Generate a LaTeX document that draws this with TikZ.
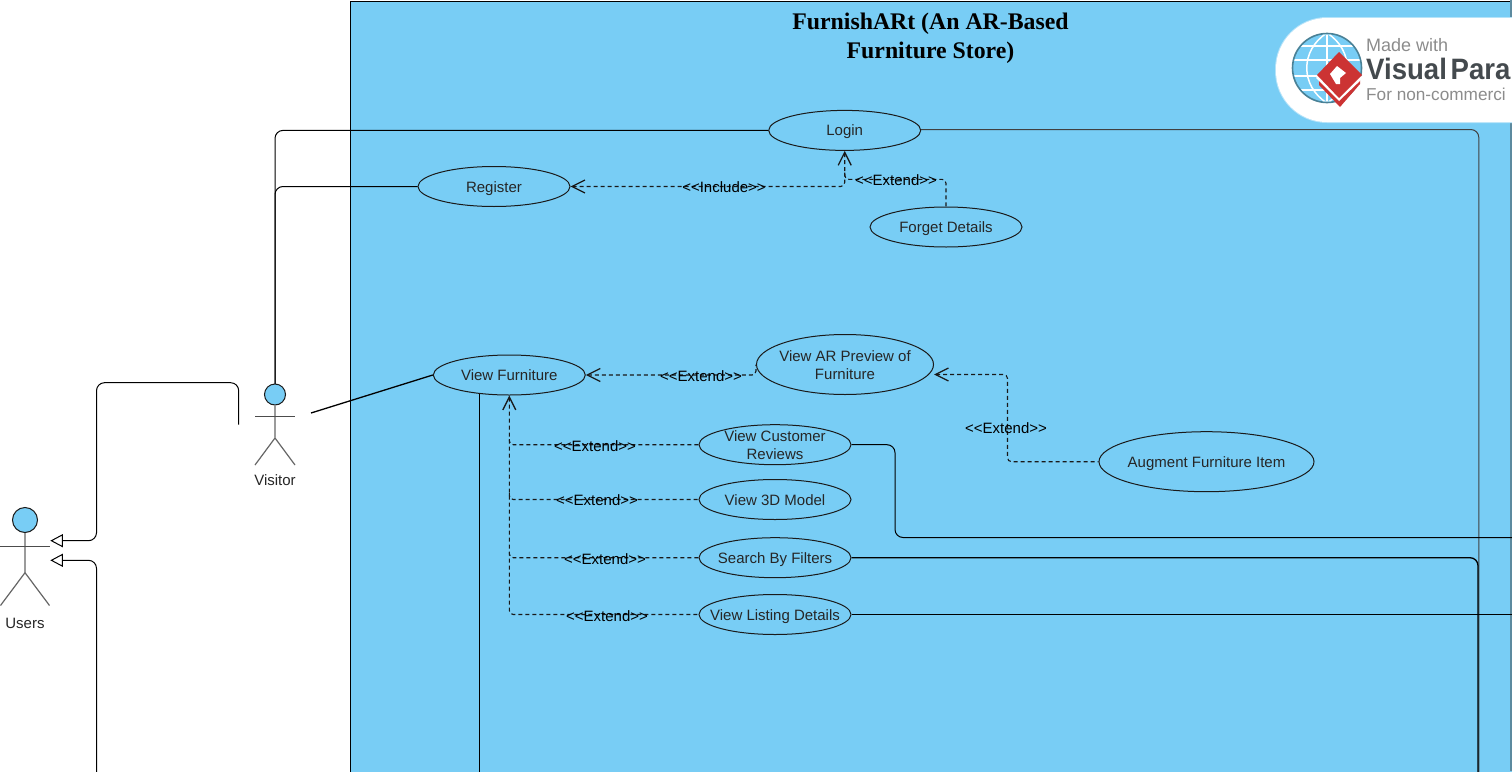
\documentclass[tikz,border=0pt]{standalone}
\usepackage{fontspec}
\usepackage{graphicx}
\setmainfont{Liberation Sans}
\newfontfamily\titlefont{Liberation Serif}
\usetikzlibrary{shapes.geometric,arrows.meta}
\definecolor{skyfill}{HTML}{78CDF5}
\definecolor{inkline}{HTML}{1A1A1A}
\definecolor{logored}{HTML}{CC3333}
\definecolor{logogrey}{HTML}{444A4E}
\definecolor{logoteal}{HTML}{4A8196}
\definecolor{edgegrey}{HTML}{5C8A9F}
\tikzset{
  x=1pt,y=-1pt,
  usecase/.style={ellipse,draw=inkline,line width=1pt,fill=skyfill,minimum width=152pt,minimum height=40pt,inner xsep=-40pt,inner ysep=-20pt,align=center,font=\fontsize{15}{18}\selectfont,text=black!85},
  oneline/.style={text height=11pt,text depth=0pt},
  assoc/.style={draw=black,line width=1pt,rounded corners=8pt},
  general/.style={assoc,-{Triangle[open,fill=white,length=12.5pt,width=13pt,line width=1pt]}},
  dep/.style={draw=black!90,line width=1.1pt,dash pattern=on 4pt off 3pt,rounded corners=4pt},
  deptip/.style={dep,{Straight Barb[length=13pt,width=13pt,line width=1.3pt]}-},
  deplabel/.style={font=\fontsize{15}{18}\selectfont,text=black,inner sep=0pt,text height=11pt,text depth=0pt},
  actorlabel/.style={font=\fontsize{15}{18}\selectfont,text=black!85,inner sep=0pt,text height=11pt,text depth=0pt},
  limb/.style={draw=black!60,line width=1.2pt},
  head/.style={circle,draw=inkline,line width=1pt,fill=skyfill,inner sep=0pt},
}
\begin{document}
\begin{tikzpicture}
\useasboundingbox (0,0) rectangle (1512,771);
\clip (0,0) rectangle (1512,771);
\fill[white] (0,0) rectangle (1512,771);
% system boundary
\node[draw=black,line width=1pt,fill=skyfill,minimum width=1300pt,minimum height=900pt,anchor=north west,inner sep=0pt] (system) at (350.3,0.5) {};
\fill[edgegrey] (1509.8,0) rectangle (1512,771);
\node[font=\titlefont\bfseries\fontsize{23.8}{29}\selectfont,align=center,inner sep=0pt] (title) at (930.5,38.5) {FurnishARt (An AR-Based\\Furniture Store)};

% free ends
\coordinate (visitorTop) at (275,385);
\coordinate (visitorLeft) at (238.7,424.5);
\coordinate (visitorRight) at (311,413);
\coordinate (usersUp) at (50.3,540.7);
\coordinate (usersDown) at (50.3,560.3);
\coordinate (belowL) at (96.5,790);
\coordinate (belowF) at (479.5,790);
\coordinate (belowA) at (1478,790);
\coordinate (belowB) at (1478.8,790);
\coordinate (rightA) at (1530,537.5);
\coordinate (rightB) at (1530,614.5);

% use cases
\node[usecase,oneline] (login) at (844.7,130.4) {Login};
\node[usecase,oneline] (register) at (494,186.5) {Register};
\node[usecase,oneline] (forget) at (946,227) {Forget Details};
\node[usecase,oneline] (furniture) at (509.3,375) {View Furniture};
\node[usecase,minimum width=177pt,minimum height=60pt] (preview) at (845,364.5) {\rule{0pt}{13pt}View AR Preview of\\Furniture};
\node[usecase,oneline,minimum width=215pt,minimum height=60pt] (augment) at (1206.5,461.7) {Augment Furniture Item};
\node[usecase] (reviews) at (775,444.7) {View Customer\\Reviews};
\node[usecase,oneline] (model) at (775,499.5) {View 3D Model};
\node[usecase,oneline] (filters) at (775,557.7) {Search By Filters};
\node[usecase,oneline] (listing) at (775,614.5) {View Listing Details};

% associations
\draw[assoc] (visitorTop) -- (275,130.4) -- (login.west);
\draw[assoc] (visitorTop) -- (275,186.5) -- (register.west);
\draw[assoc,rounded corners=0pt,line width=1.3pt] (visitorRight) -- (furniture.west);
\draw[assoc,draw=black!75] ([yshift=0.9pt]login.east) -- (1478.8,129.5) -- (belowB);
\draw[assoc,line width=1.3pt] (filters.east) -- (1478,557.7) -- (belowA);
\draw[assoc] (reviews.east) -- (895,444.7) -- (895,537.5) -- (rightA);
\draw[assoc] (listing.east) -- (rightB);
\draw[assoc] (479.5,394) -- (belowF);
\draw[general] (visitorLeft) -- (238.7,382.7) -- (96.5,382.7) -- (96.5,540.7) -- (usersUp);
\draw[general] (belowL) -- (96.5,560.3) -- (usersDown);

% dependencies
\draw[deptip] (login.south) -- (844.7,179.3) -- (946,179.3) -- (forget.north);
\draw[deptip] (register.east) -- (844.7,186.5) -- (844.7,172);
\draw[deptip] (furniture.east) -- (preview.west |- furniture.east) -- (preview.west);
\draw[deptip] ([yshift=-10pt]preview.east) -- (1007.5,374.5) -- (1007.5,461.7) -- (augment.west);
% one shared trunk up to View Furniture, with the other use cases joining it
\draw[deptip] (furniture.south) -- (509.3,614.5) -- (listing.west);
\draw[dep] (509.3,439) -- (509.3,444.7) -- (reviews.west);
\draw[dep] (509.3,493) -- (509.3,499.5) -- (model.west);
\draw[dep] (509.3,552) -- (509.3,557.7) -- (filters.west);

\node[deplabel] (lblInclude) at (724,186.7) {<{}<Include>{}>};
\node[deplabel] (lblForget) at (896,180) {<{}<Extend>{}>};
\node[deplabel] (lblPreview) at (701,376) {<{}<Extend>{}>};
\node[deplabel] (lblAugment) at (1006,428) {<{}<Extend>{}>};
\node[deplabel] (lblReviews) at (595,446) {<{}<Extend>{}>};
\node[deplabel] (lblModel) at (597,500) {<{}<Extend>{}>};
\node[deplabel] (lblFilters) at (605,559) {<{}<Extend>{}>};
\node[deplabel] (lblListing) at (607,616) {<{}<Extend>{}>};

% actors
\node[head,minimum size=21pt] (visitorHead) at (275,394.5) {};
\draw[limb] (visitorHead.south) -- (275,438) -- (255,465) (275,438) -- (295,465);
\draw[limb,line width=0.9pt,draw=black!70] (255,416.3) -- (295,416.3);
\node[actorlabel] (visitorLabel) at (275,480) {Visitor};
\node[head,minimum size=25pt] (usersHead) at (25,520) {};
\draw[limb] (usersHead.south) -- (25,572.7) -- (0.5,605.5) (25,572.7) -- (49.5,605.5);
\draw[limb,line width=0.9pt,draw=black!70] (0,546.7) -- (50,546.7);
\node[actorlabel] (usersLabel) at (25,622.7) {Users};

% watermark
\fill[white!45!skyfill,rounded corners=52pt] (1275,17) rectangle (1640,123);
\fill[white,rounded corners=51pt] (1276,18) rectangle (1640,122);
\draw[logoteal,line width=1.6pt,fill=skyfill] (1327,68) circle[radius=34.5];
\begin{scope}
\clip (1327,68) circle[radius=33.5];
\foreach \yy in {46,60,76,90} \draw[white,line width=1.5pt] (1290,\yy) -- (1365,\yy);
\draw[white,line width=1.5pt] (1327,30) -- (1327,106);
\draw[white,line width=1.5pt] (1327,33) .. controls (1300,50) and (1300,86) .. (1327,103);
\draw[white,line width=1.5pt] (1327,33) .. controls (1354,50) and (1354,86) .. (1327,103);
\end{scope}
\fill[logored] (1319,85) -- (1340,107) -- (1360,84) -- (1360,79) -- (1339,97) -- (1319,80) -- cycle;
\fill[white] (1316,78) -- (1339,101) -- (1363,78) -- (1339,54) -- cycle;
\fill[logored] (1317,75) -- (1339,98) -- (1362,75) -- (1339,52) -- cycle;
\fill[white] (1330,74) -- (1337,66) -- (1346,73) -- (1340,78) -- (1340,84) -- (1336,84) -- cycle;
\node[anchor=west,inner sep=0pt,text=black!45,font=\fontsize{18}{20}\selectfont] (logoA) at (1366,45) {Made with};
\node[anchor=west,inner sep=0pt,text=logogrey,font=\bfseries\fontsize{29.5}{31}\selectfont] (logoB) at (1366,69) {\scalebox{0.935}[1]{Visual\hspace{4pt}Para}};
\node[anchor=west,inner sep=0pt,text=black!45,font=\fontsize{17.2}{20}\selectfont] (logoC) at (1366,94) {For non-commerci};
\end{tikzpicture}
\end{document}
